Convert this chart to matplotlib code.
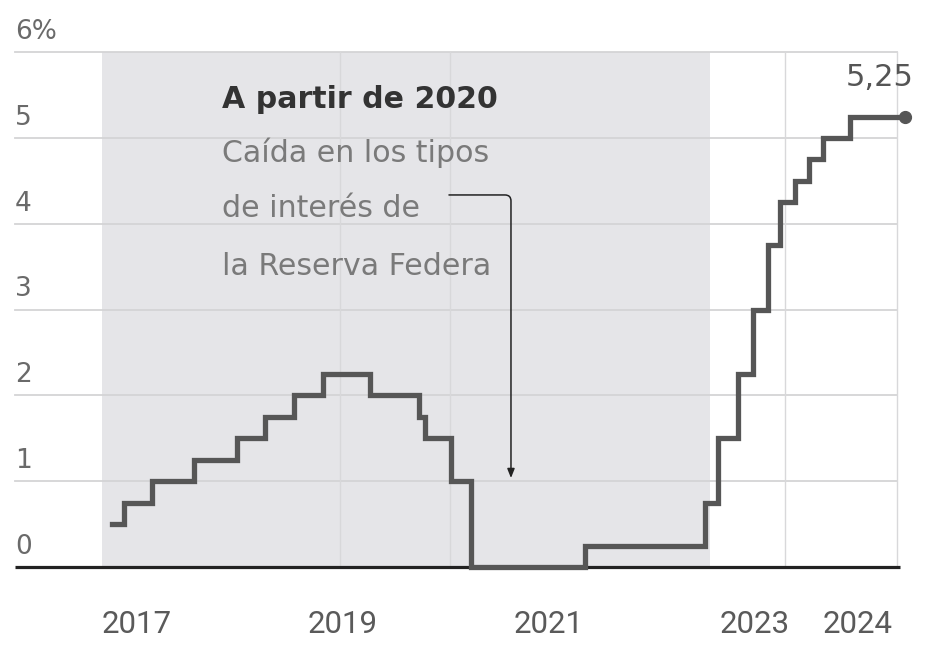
import matplotlib
matplotlib.use("Agg")
import matplotlib.pyplot as plt

# ---- data (lower bound of Fed funds target, %), x as decimal years ----
step_dates = [2016.757, 2016.874, 2017.146, 2017.553, 2017.971, 2018.243, 2018.524,
              2018.806, 2019.262, 2019.738, 2019.796, 2020.049, 2020.243, 2021.350,
              2022.515, 2022.641, 2022.835, 2022.981, 2023.126, 2023.243, 2023.388,
              2023.524, 2023.660, 2023.922, 2024.456]
step_rates = [0.5, 0.75, 1.0, 1.25, 1.5, 1.75, 2.0,
              2.25, 2.0, 1.75, 1.5, 1.0, 0.0, 0.25,
              0.75, 1.5, 2.25, 3.0, 3.75, 4.25, 4.5,
              4.75, 5.0, 5.25, 5.25]
year_ticks = [2017, 2019, 2021, 2023, 2024]
year_labels = ["2017", "2019", "2021", "2023", "2024"]
y_ticks = [0, 1, 2, 3, 4, 5, 6]
y_labels = ["0", "1", "2", "3", "4", "5", "6%"]
vgrid_dates = [2018.971, 2020.039, 2023.291, 2024.379]
shade_span = (2016.660, 2022.563)
end_label = "5,25"
note_title = "A partir de 2020"
note_lines = ["Caída en los tipos", "de interés de", "la Reserva Federa"]

# ---- figure ----
fig = plt.figure(figsize=(9.31, 6.47), dpi=100)
ax = fig.add_axes([0, 0, 1, 1])
ax.set_xlim(2015.670, 2024.709)
ax.set_ylim(-0.932, 6.608)
ax.axis("off")

x_left, x_right = 2015.816, 2024.379

# shaded period
ax.fill_between([shade_span[0], shade_span[1]], 0, 6, color="#e5e5e8", lw=0, zorder=0)

# grid
for v in y_ticks[1:]:
    ax.plot([x_left, x_right], [v, v], color="#d4d4d6", lw=1.3, zorder=1)
for d in vgrid_dates:
    ax.plot([d, d], [0, 6], color="#d8d8da", lw=1.0, zorder=1)

# y labels
for v, lab in zip(y_ticks, y_labels):
    ax.text(x_left, v + 0.235, lab, ha="left", va="center", fontsize=19,
            color="#6a6a6a", family="DejaVu Sans")

# x labels
for d, lab in zip(year_ticks, year_labels):
    ax.text(d, -0.664, lab, ha="center", va="center", fontsize=22.5,
            color="#5a5a5a", family="Roboto")

# baseline
ax.plot([x_left, x_right + 0.03], [0, 0], color="#222222", lw=2.3, zorder=3,
        solid_capstyle="butt")

# step line
ax.plot(step_dates, step_rates, drawstyle="steps-post", color="#565656", lw=3.8,
        zorder=4, solid_joinstyle="miter")
ax.plot([step_dates[-1]], [step_rates[-1]], "o", color="#565656", ms=8.5, zorder=5)
ax.annotate(end_label, xy=(step_dates[-1], step_rates[-1]), xytext=(-18, 28),
            textcoords="offset points", ha="center", va="center", fontsize=22,
            color="#555555")

# annotation
ax.text(2017.825, 5.350, note_title, ha="left", va="baseline", fontsize=21.6,
        fontweight="bold", color="#333333")
for yv, line in zip([4.720, 4.079, 3.403], note_lines):
    ax.text(2017.825, yv, line, ha="left", va="baseline", fontsize=21.6,
            color="#7a7a7a")
ax.annotate("", xy=(2020.631, 1.037), xytext=(2020.029, 4.336),
            arrowprops=dict(arrowstyle="-|>,head_length=0.45,head_width=0.18",
                            connectionstyle="angle,angleA=0,angleB=90,rad=6",
                            color="#222222", lw=1.1, shrinkA=0, shrinkB=0,
                            mutation_scale=12), zorder=6)

fig.savefig("out.png", dpi=100)
